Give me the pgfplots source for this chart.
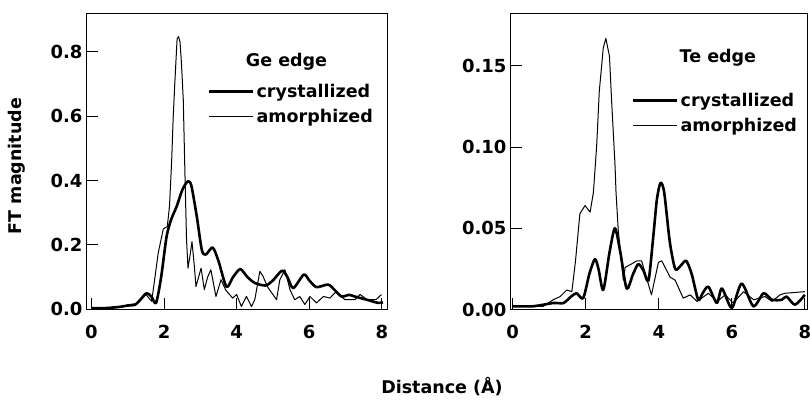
\documentclass[border=0pt]{standalone}
\usepackage{fontspec}
\setmainfont{DejaVu Sans}
\usepackage{pgfplots}
\pgfplotsset{compat=1.18}

\pgfplotsset{
  ftaxis/.style={
    scale only axis,
    anchor=south west,
    height=296bp,
    axis line style={line width=1bp},
    tick pos=left,
    tick align=inside,
    major tick length=12bp,
    every tick/.style={line width=1bp, black},
    xmin=-0.15, xmax=8.17,
    xtick={0,2,4,6,8},
    /pgf/number format/assume math mode=true,
    ticklabel style={font=\fontsize{18bp}{20bp}\selectfont\bfseries},
    xticklabel style={yshift=-12bp},
    legend style={draw=none, fill=none, inner sep=0pt, outer sep=0pt,
      font=\fontsize{17.5bp}{20bp}\selectfont\bfseries,
      row sep=6bp, cells={anchor=west}},
    legend image code/.code={\draw[##1] (0bp,0bp) -- (44bp,0bp);},
  },
  cryst/.style={black, line width=2.6bp, line join=round, smooth, tension=0.45},
  amorph/.style={black, line width=1bp, line join=round},
}

\begin{document}
\begin{tikzpicture}
\useasboundingbox (0,0) rectangle (810bp,403bp);

% Ge edge
\begin{axis}[ftaxis,
  at={(86bp,93bp)}, width=302bp,
  ymin=-0.002, ymax=0.917,
  ytick={0,0.2,0.4,0.6,0.8},
  yticklabel style={/pgf/number format/.cd, fixed, fixed zerofill, precision=1},
  legend style={at={(0.404,0.696)}, anchor=west},
]
\addplot[cryst] coordinates {
(0,0.004)(0.4,0.004)(0.8,0.008)(1.0,0.012)(1.2,0.014)(1.35,0.03)(1.52,0.05)
(1.65,0.04)(1.78,0.02)(1.92,0.1)(2.07,0.226)(2.2,0.28)(2.35,0.32)(2.5,0.37)
(2.65,0.397)(2.75,0.385)(2.9,0.29)(3.04,0.185)(3.15,0.17)(3.34,0.192)(3.5,0.15)
(3.72,0.07)(3.9,0.1)(4.1,0.125)(4.3,0.1)(4.5,0.082)(4.8,0.074)(5.0,0.09)
(5.25,0.12)(5.4,0.1)(5.56,0.066)(5.85,0.108)(6.0,0.09)(6.2,0.069)(6.52,0.077)
(6.7,0.06)(6.89,0.04)(7.1,0.045)(7.25,0.04)(7.58,0.03)(7.9,0.02)(8.03,0.022)
};
\addlegendentry{crystallized}
\addplot[amorph] coordinates {
(0,0.004)(0.5,0.004)(0.77,0.006)(1.04,0.015)(1.25,0.018)(1.47,0.05)(1.66,0.025)
(1.84,0.175)(1.98,0.25)(2.09,0.257)(2.15,0.32)(2.21,0.46)(2.25,0.59)(2.3,0.71)
(2.36,0.84)(2.4,0.847)(2.44,0.83)(2.48,0.764)(2.53,0.65)(2.58,0.40)(2.62,0.216)
(2.66,0.128)(2.72,0.17)(2.77,0.21)(2.83,0.14)(2.88,0.071)(3.02,0.128)(3.11,0.061)
(3.2,0.1)(3.29,0.123)(3.43,0.04)(3.57,0.092)(3.7,0.06)(3.89,0.035)(4.0,0.046)
(4.13,0.009)(4.27,0.04)(4.41,0.009)(4.5,0.03)(4.64,0.118)(4.73,0.102)(4.85,0.07)
(5.1,0.03)(5.19,0.092)(5.33,0.123)(5.47,0.061)(5.6,0.03)(5.74,0.04)(5.88,0.015)
(6.02,0.04)(6.2,0.02)(6.39,0.04)(6.57,0.035)(6.75,0.056)(6.98,0.03)(7.26,0.03)
(7.4,0.046)(7.6,0.03)(7.84,0.03)(7.99,0.046)
};
\addlegendentry{amorphized}
\node[font=\fontsize{17.5bp}{20bp}\selectfont\bfseries] at (rel axis cs:0.664,0.838) {Ge edge};
\end{axis}

% Te edge
\begin{axis}[ftaxis,
  at={(510bp,93bp)}, width=297bp,
  xmin=-0.074, xmax=8.06,
  ymin=-0.0003, ymax=0.182,
  ytick={0,0.05,0.10,0.15},
  yticklabel style={/pgf/number format/.cd, fixed, fixed zerofill, precision=2},
  legend style={at={(0.411,0.666)}, anchor=west},
]
\addplot[cryst] coordinates {
(0,0.002)(0.56,0.002)(1.11,0.004)(1.39,0.004)(1.6,0.008)(1.75,0.010)(1.93,0.007)
(2.1,0.022)(2.25,0.031)(2.35,0.025)(2.48,0.012)(2.65,0.035)(2.8,0.050)(2.95,0.035)
(3.12,0.013)(3.3,0.022)(3.44,0.028)(3.58,0.024)(3.72,0.018)(3.85,0.045)(3.95,0.068)
(4.05,0.078)(4.15,0.072)(4.3,0.042)(4.45,0.025)(4.6,0.027)(4.75,0.030)(4.9,0.022)
(5.08,0.006)(5.2,0.010)(5.36,0.014)(5.59,0.004)(5.73,0.013)(6.0,0.001)(6.27,0.016)
(6.59,0.002)(6.87,0.010)(7.1,0.006)(7.37,0.006)(7.5,0.008)(7.73,0.003)(8.0,0.009)
};
\addlegendentry{crystallized}
\addplot[amorph] coordinates {
(0,0.002)(0.84,0.002)(1.11,0.006)(1.3,0.008)(1.48,0.012)(1.62,0.011)(1.72,0.03)
(1.84,0.059)(1.98,0.064)(2.12,0.060)(2.21,0.072)(2.3,0.101)(2.37,0.134)(2.48,0.161)
(2.55,0.167)(2.65,0.156)(2.71,0.128)(2.8,0.090)(2.83,0.072)(2.89,0.049)(3.03,0.018)
(3.08,0.026)(3.25,0.028)(3.4,0.030)(3.53,0.030)(3.8,0.009)(3.99,0.029)(4.08,0.030)
(4.31,0.020)(4.45,0.018)(4.67,0.007)(4.86,0.009)(5.05,0.005)(5.36,0.010)(5.6,0.005)
(5.82,0.009)(6.04,0.004)(6.32,0.011)(6.6,0.006)(6.91,0.008)(7.1,0.005)(7.32,0.009)
(7.46,0.010)(8.0,0.011)
};
\addlegendentry{amorphized}
\node[font=\fontsize{17.5bp}{20bp}\selectfont\bfseries] at (rel axis cs:0.700,0.851) {Te edge};
\end{axis}

\node[rotate=90, font=\fontsize{17.5bp}{20bp}\selectfont\bfseries] at (17bp,237bp) {FT magnitude};
\node[font=\fontsize{17.5bp}{20bp}\selectfont\bfseries] at (442bp,16bp) {Distance (Å)};
\end{tikzpicture}
\end{document}
